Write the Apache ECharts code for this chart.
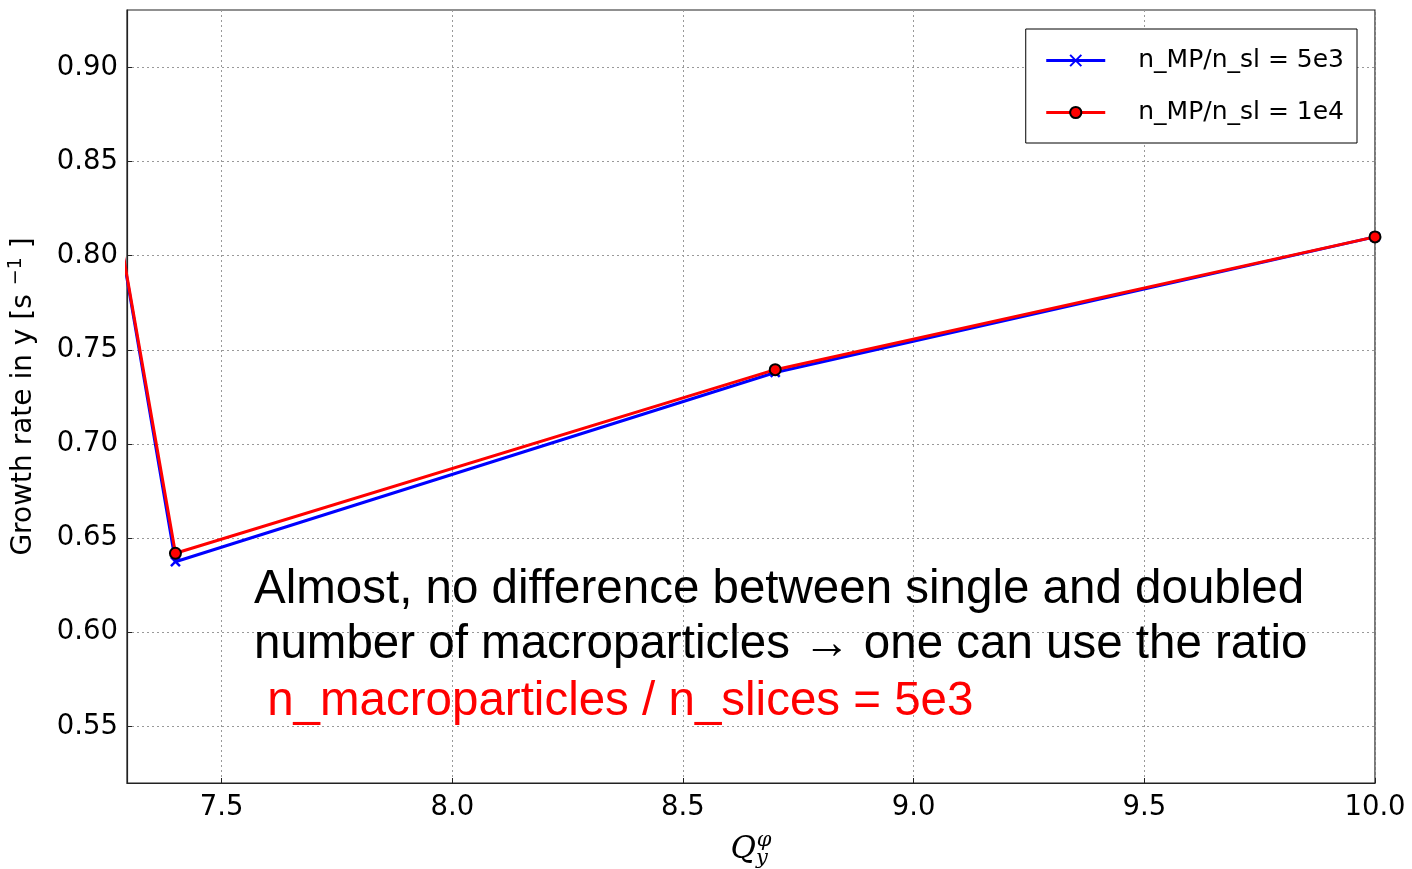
<!DOCTYPE html>
<html>
<head>
<meta charset="utf-8">
<script src="https://cdn.jsdelivr.net/npm/echarts@6/dist/echarts.min.js"></script>
<style>
  html, body { margin: 0; padding: 0; background: #fff; }
  #chart { width: 1412px; height: 869px; }
</style>
</head>
<body>
<div id="chart"></div>
<script>
// Vertical tune Q_y^phi scanned, growth rate in y for two macroparticle densities
const qy = [7.2, 7.4, 8.7, 10.0];
const rate5e3 = [0.924, 0.6375, 0.738, 0.810];
const rate1e4 = [0.922, 0.642, 0.7395, 0.810];
const xTicks = [7.5, 8.0, 8.5, 9.0, 9.5, 10.0];
const yTicks = [0.55, 0.60, 0.65, 0.70, 0.75, 0.80, 0.85, 0.90];
const seriesNames = ['n_MP/n_sl = 5e3', 'n_MP/n_sl = 1e4'];
const noteLines = [
  'Almost, no difference between single and doubled',
  'number of macroparticles \u2192 one can use the ratio',
  ' n_macroparticles / n_slices = 5e3'
];

const chart = echarts.init(document.getElementById('chart'), null, { renderer: 'canvas' });

const tickFont = { fontFamily: 'DejaVu Sans', fontSize: 27.5, color: '#000' };

const option = {
  animation: false,
  backgroundColor: '#fff',
  grid: {
    left: 127, right: 37, top: 10, bottom: 86,
    containLabel: false,
    outerBoundsMode: 'none',
    show: true, borderColor: '#222', borderWidth: 1.2, backgroundColor: 'transparent'
  },
  xAxis: {
    type: 'value',
    min: 7.295,
    max: 10.0,
    name: '{q|Q}{sub|y}{sup|\u03c6}',
    nameLocation: 'middle',
    nameGap: 47,
    nameTextStyle: {
      rich: {
        q: { fontFamily: 'DejaVu Serif', fontStyle: 'italic', fontSize: 31, color: '#000' },
        sub: { fontFamily: 'DejaVu Serif', fontStyle: 'italic', fontSize: 21, color: '#000', verticalAlign: 'bottom', padding: [16, 0, 0, 0] },
        sup: { fontFamily: 'DejaVu Serif', fontStyle: 'italic', fontSize: 21, color: '#000', verticalAlign: 'top', padding: [0, 0, 18, -11] }
      }
    },
    axisLine: { show: true, lineStyle: { color: '#222', width: 1.2 } },
    axisTick: { show: true, inside: true, length: 5, customValues: xTicks, lineStyle: { color: '#222' } },
    axisLabel: Object.assign({ customValues: xTicks, margin: 11, formatter: v => v.toFixed(1) }, tickFont),
    splitLine: { show: true, lineStyle: { color: '#999', type: [2, 3], width: 1 } }
  },
  yAxis: {
    type: 'value',
    min: 0.52,
    max: 0.9305,
    name: 'Growth rate in y [s {sup|\u22121} ]',
    nameLocation: 'middle',
    nameGap: 86,
    nameRotate: 90,
    nameTextStyle: {
      fontFamily: 'DejaVu Sans',
      fontSize: 28,
      color: '#000',
      rich: {
        sup: { fontFamily: 'DejaVu Sans', fontSize: 19, color: '#000', verticalAlign: 'top', padding: [0, 0, 15, 0] }
      }
    },
    axisLine: { show: true, lineStyle: { color: '#222', width: 1.2 } },
    axisTick: { show: true, inside: true, length: 5, customValues: yTicks, lineStyle: { color: '#222' } },
    axisLabel: Object.assign({ customValues: yTicks, margin: 9, formatter: v => v.toFixed(2) }, tickFont),
    splitLine: { show: true, lineStyle: { color: '#999', type: [2, 3], width: 1 } }
  },
  legend: {
    right: 55,
    top: 29,
    orient: 'vertical',
    padding: [19, 13, 18, 19],
    itemGap: 27,
    itemWidth: 59,
    itemHeight: 14,
    borderColor: '#000',
    borderWidth: 1,
    borderRadius: 0,
    backgroundColor: '#fff',
    lineStyle: { width: 3 },
    textStyle: { fontFamily: 'DejaVu Sans', fontSize: 25, color: '#000', padding: [0, 0, 0, 28] },
    data: seriesNames
  },
  series: [
    {
      name: seriesNames[0],
      type: 'line',
      data: qy.map((x, i) => [x, rate5e3[i]]),
      clip: true,
      lineStyle: { color: '#0000ff', width: 3 },
      symbol: 'path://M0,0L10,10M10,0L0,10',
      symbolSize: 9,
      itemStyle: { color: '#0000ff', borderColor: '#0000ff', borderWidth: 2.5 },
      showAllSymbol: true,
      z: 2
    },
    {
      name: seriesNames[1],
      type: 'line',
      data: qy.map((x, i) => [x, rate1e4[i]]),
      clip: true,
      lineStyle: { color: '#ff0000', width: 3 },
      symbol: 'circle',
      symbolSize: 11,
      itemStyle: { color: '#ff0000', borderColor: '#000', borderWidth: 2 },
      showAllSymbol: true,
      z: 3
    }
  ],
  graphic: [
    {
      type: 'text',
      left: 254,
      top: 562,
      z: 10,
      style: {
        text: noteLines[0] + '\n' + noteLines[1],
        fontFamily: 'Liberation Sans',
        fontSize: 47.5,
        lineHeight: 55,
        fill: '#000'
      }
    },
    {
      type: 'text',
      left: 254,
      top: 678,
      z: 10,
      style: {
        text: noteLines[2],
        fontFamily: 'Liberation Sans',
        fontSize: 47.5,
        fill: '#ff0000'
      }
    }
  ]
};

chart.setOption(option);
</script>
</body>
</html>
